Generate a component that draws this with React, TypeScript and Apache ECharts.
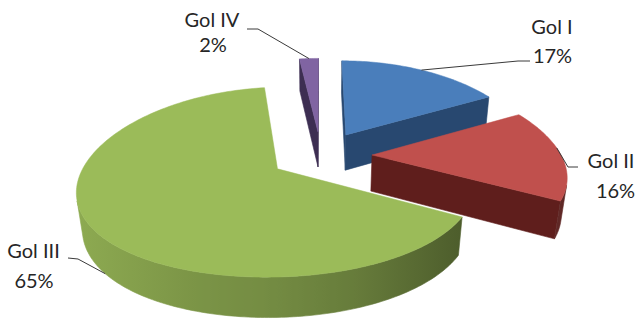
import React, { useEffect, useRef } from 'react';
import * as echarts from 'echarts';

// Share of each group (percent)
const NAMES = ['Gol I', 'Gol II', 'Gol III', 'Gol IV'];
const VALUES = [17, 16, 65, 2];

// Slice colours: top face, cut faces
const TOP_COLORS = ['#4A7EBB', '#C0504D', '#9BBB59', '#8064A2'];
const CUT_COLORS = ['#284870', '#5F1E1C', '#4F6228', '#3D2E52'];

// View of the pie (unit radius in world space); horizontal and vertical foreshortening are separate
const VIEW = {
  cx: 321,
  cy: 155,
  scale: 189,
  tilt: 28.2,
  hPersp: 0.2245,
  vPersp: 0.1555,
  explode: 0.27,
  depth: 0.22,
};

// Brightness of the outer rim depending on where it faces (angle from the back, clockwise)
const RIM_SHADE: [number, number][] = [
  [0, 0.45], [90, 0.45], [120, 0.5], [180, 0.75], [240, 0.9], [270, 0.93], [360, 0.93],
];

// Data label layout: anchor on slice (fraction of the arc, rim height 0..1), leader bends, text centres
const LABEL_LAYOUT = [
  { at: 0.5, h: 0, bends: [[518, 61], [530, 61]], name: [552, 25.5], pct: [552.5, 54.5] },
  { at: 0.42, h: 0, bends: [[568, 167], [578, 167]], name: [611, 159.5], pct: [615.5, 189.5] },
  { at: 0.475, h: 1, bends: [[78, 259], [68, 258]], name: [33.5, 250], pct: [34, 280] },
  { at: 0.5, h: 0, bends: [[258, 29], [247, 29]], name: [212, 18.5], pct: [213, 43.5] },
];

const FONT = '20px Lato, "Open Sans", sans-serif';
const deg = Math.PI / 180;

function shade(hex: string, f: number) {
  const n = parseInt(hex.slice(1), 16);
  const c = [(n >> 16) & 255, (n >> 8) & 255, n & 255].map((v) => Math.max(0, Math.min(255, Math.round(v * f))));
  return `rgb(${c[0]},${c[1]},${c[2]})`;
}

function rimFactor(phi: number) {
  const a = ((phi % 360) + 360) % 360;
  for (let i = 1; i < RIM_SHADE.length; i++) {
    const [p0, f0] = RIM_SHADE[i - 1];
    const [p1, f1] = RIM_SHADE[i];
    if (a <= p1) return f0 + ((a - p0) / (p1 - p0)) * (f1 - f0);
  }
  return RIM_SHADE[RIM_SHADE.length - 1][1];
}

type Pt = [number, number];
type V3 = [number, number, number];

function buildSlices() {
  const { cx, cy, scale, tilt, hPersp, vPersp, explode, depth } = VIEW;
  const ca = Math.cos(tilt * deg);
  const sa = Math.sin(tilt * deg);
  const camDist = 1 / hPersp;
  const cam = [0, camDist * sa, camDist * ca];
  const proj = (x: number, y: number, z: number): Pt => {
    const yv = y * ca - z * sa;
    const zv = y * sa + z * ca;
    const px = 1 / (1 - zv * hPersp);
    const py = 1 / (1 - zv * vPersp);
    return [cx + scale * x * px, cy - scale * yv * py];
  };
  const total = VALUES.reduce((a, b) => a + b, 0);
  let cum = 0;
  return VALUES.map((v, i) => {
    const a0 = (cum / total) * 360;
    cum += v;
    const a1 = (cum / total) * 360;
    const mid = ((a0 + a1) / 2) * deg;
    const ox = explode * Math.sin(mid);
    const oz = -explode * Math.cos(mid);
    const rim = (phiDeg: number, y: number): V3 => [ox + Math.sin(phiDeg * deg), y, oz - Math.cos(phiDeg * deg)];
    const P = (w: V3) => proj(w[0], w[1], w[2]);
    const facing = (n: number[], p: number[]) =>
      n[0] * (cam[0] - p[0]) + n[1] * (cam[1] - p[1]) + n[2] * (cam[2] - p[2]) > 0;

    const steps = Math.max(2, Math.ceil(a1 - a0));
    const phis: number[] = [];
    for (let k = 0; k <= steps; k++) phis.push(a0 + ((a1 - a0) * k) / steps);

    const apexTop = proj(ox, 0, oz);
    const apexBot = proj(ox, -depth, oz);
    const top: Pt[] = [apexTop, ...phis.map((ph) => P(rim(ph, 0)))];

    // cut faces along the two radii
    const cuts: Pt[][] = [];
    const cutFace = (ang: number, normalAng: number) => {
      const n = [Math.sin(normalAng * deg), 0, -Math.cos(normalAng * deg)];
      const r = rim(ang, -depth / 2);
      const c = [(ox + r[0]) / 2, -depth / 2, (oz + r[2]) / 2];
      if (facing(n, c)) cuts.push([apexTop, P(rim(ang, 0)), P(rim(ang, -depth)), apexBot]);
    };
    cutFace(a0, a0 - 90);
    cutFace(a1, a1 + 90);

    // visible runs of the outer rim
    const sides: { pts: Pt[]; phis: number[] }[] = [];
    let run: number[] = [];
    const flush = () => {
      if (run.length > 1) {
        const upper = run.map((ph) => P(rim(ph, 0)));
        const lower = run.map((ph) => P(rim(ph, -depth))).reverse();
        sides.push({ pts: [...upper, ...lower], phis: run.slice() });
      }
      run = [];
    };
    phis.forEach((ph) => {
      const n = [Math.sin(ph * deg), 0, -Math.cos(ph * deg)];
      if (facing(n, rim(ph, -depth / 2))) run.push(ph);
      else flush();
    });
    flush();

    // depth of the slice centre, for drawing order
    const cz = oz - Math.cos(mid) * 0.5;

    const lay = LABEL_LAYOUT[i];
    const aph = a0 + (a1 - a0) * lay.at;
    const anchor = P(rim(aph, -depth * lay.h));
    const pct = Math.round((v / total) * 100) + '%';

    return { i, top, cuts, sides, cz, anchor, pct, rimPt: (ph: number) => P(rim(ph, 0)) };
  });
}

export default function App() {
  const ref = useRef<HTMLDivElement>(null);
  useEffect(() => {
    if (!ref.current) return;
    const chart = echarts.init(ref.current, undefined, { renderer: 'svg' });
    const slices = buildSlices();
    const order = slices.map((s) => s.i).sort((a, b) => slices[a].cz - slices[b].cz);
    const rank: number[] = [];
    order.forEach((idx, r) => (rank[idx] = r));

    const textEl = (text: string, pos: number[]) => ({
      type: 'text',
      z2: 101,
      x: pos[0],
      y: pos[1],
      style: {
        text,
        font: FONT,
        fill: '#262626',
        align: 'center',
        verticalAlign: 'middle',
        textAlign: 'center',
        textVerticalAlign: 'middle',
      },
    });

    const renderItem = (params: any) => {
      const s = slices[params.dataIndex];
      const base = rank[s.i] * 10;
      const children: any[] = [];
      s.cuts.forEach((pts) =>
        children.push({
          type: 'polygon',
          z2: base + 1,
          shape: { points: pts },
          style: { fill: CUT_COLORS[s.i], stroke: CUT_COLORS[s.i], lineWidth: 0.6 },
        })
      );
      s.sides.forEach((side) => {
        const xs = side.phis.map((ph) => s.rimPt(ph)[0]);
        const xmin = Math.min(...xs);
        const xmax = Math.max(...xs);
        const stops = side.phis
          .map((ph, k) => ({
            offset: xmax > xmin ? (xs[k] - xmin) / (xmax - xmin) : 0,
            color: shade(TOP_COLORS[s.i], rimFactor(ph)),
          }))
          .sort((a, b) => a.offset - b.offset)
          .filter((st, k, arr) => k === 0 || k === arr.length - 1 || st.offset > arr[k - 1].offset + 0.01);
        const fill =
          xmax - xmin > 2 ? new echarts.graphic.LinearGradient(xmin, 0, xmax, 0, stops, true) : stops[0].color;
        children.push({
          type: 'polygon',
          z2: base + 2,
          shape: { points: side.pts },
          style: { fill, stroke: fill, lineWidth: 0.6 },
        });
      });
      children.push({
        type: 'polygon',
        z2: base + 3,
        shape: { points: s.top },
        style: { fill: TOP_COLORS[s.i], stroke: TOP_COLORS[s.i], lineWidth: 0.5 },
      });
      const lay = LABEL_LAYOUT[s.i];
      children.push({
        type: 'polyline',
        z2: 100,
        shape: { points: [s.anchor, ...lay.bends] },
        style: { stroke: '#3a3a3a', lineWidth: 1, fill: null },
      });
      children.push(textEl(NAMES[s.i], lay.name));
      children.push(textEl(s.pct, lay.pct));
      return { type: 'group', children };
    };

    chart.setOption({
      animation: false,
      backgroundColor: '#ffffff',
      series: [
        {
          type: 'custom',
          coordinateSystem: 'none',
          silent: true,
          renderItem,
          data: VALUES.map((v, i) => ({ name: NAMES[i], value: v })),
        },
      ],
    });
    return () => chart.dispose();
  }, []);
  return <div ref={ref} style={{ position: 'fixed', left: 0, top: 0, width: 639, height: 323 }} />;
}
